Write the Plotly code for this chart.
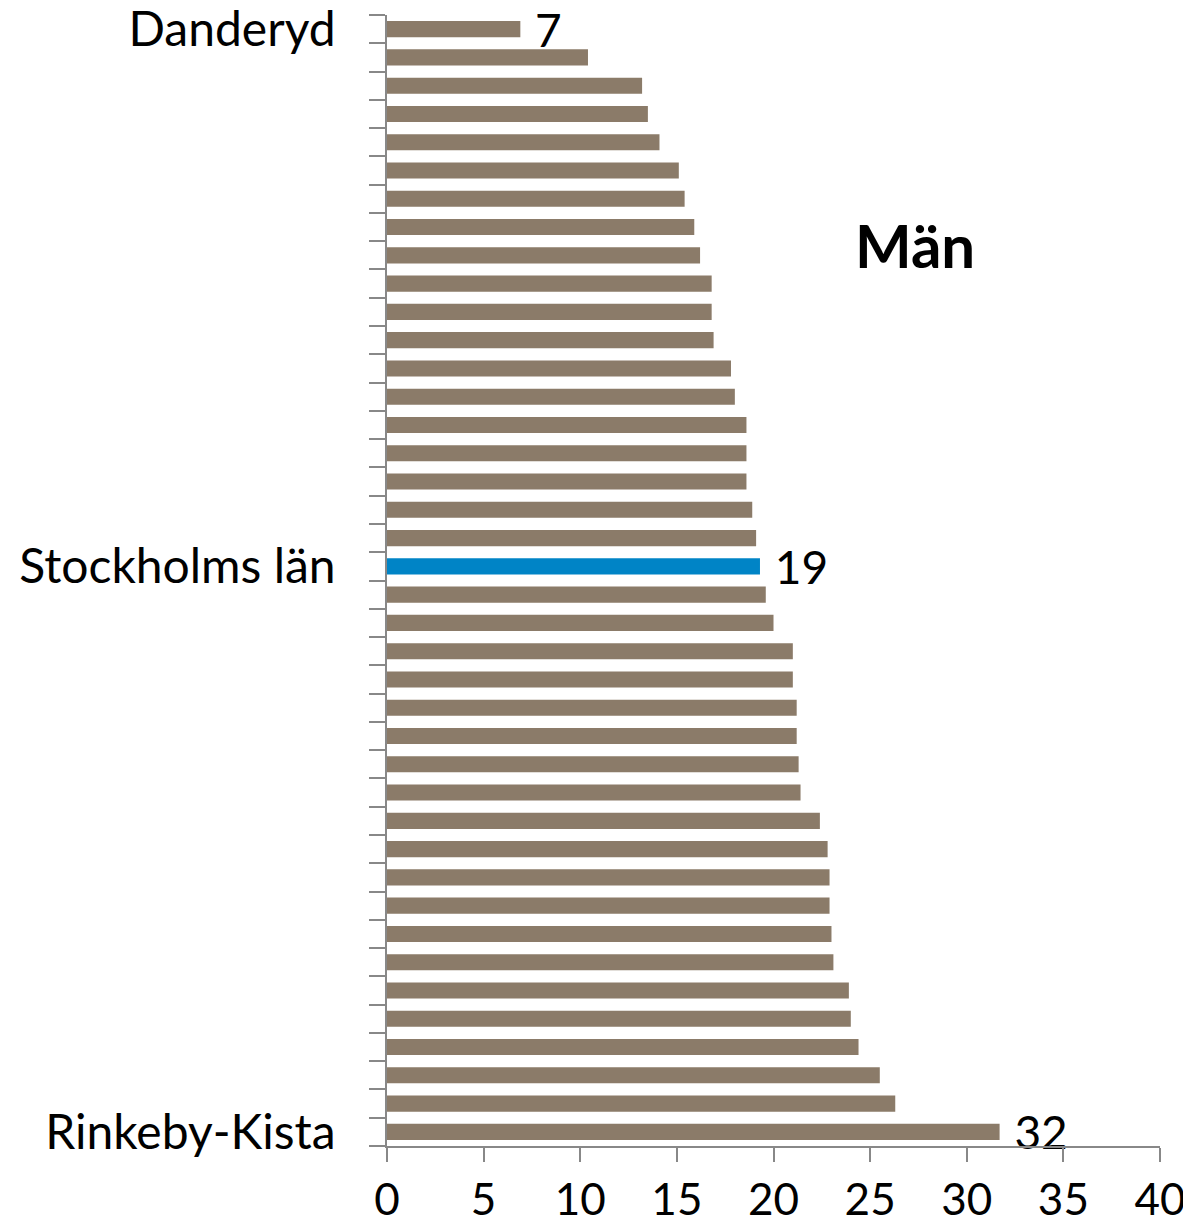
import plotly.graph_objects as go

# Andel (%) per kommun/stadsdel, män, sorterat stigande
labels = ["Danderyd"] + [""] * 18 + ["Stockholms län"] + [""] * 19 + ["Rinkeby-Kista"]
values = [6.9, 10.4, 13.2, 13.5, 14.1, 15.1, 15.4, 15.9, 16.2, 16.8,
          16.8, 16.9, 17.8, 18.0, 18.6, 18.6, 18.6, 18.9, 19.1, 19.3,
          19.6, 20.0, 21.0, 21.0, 21.2, 21.2, 21.3, 21.4, 22.4, 22.8,
          22.9, 22.9, 23.0, 23.1, 23.9, 24.0, 24.4, 25.5, 26.3, 31.7]
value_text = ["7"] + [""] * 18 + ["19"] + [""] * 19 + ["32"]
highlight = "Stockholms län"

labels = labels[:len(values)]
value_text = value_text[:len(values)]
positions = list(range(len(values)))
colors = ["#0084C6" if l == highlight else "#8B7B69" for l in labels]
shown = [i for i, l in enumerate(labels) if l]

font_family = "Lato, sans-serif"

fig = go.Figure(go.Bar(
    x=values,
    y=positions,
    orientation="h",
    marker=dict(color=colors, line=dict(width=0)),
    text=value_text,
    texttemplate=" %{text}",
    textposition="outside",
    constraintext="none",
    cliponaxis=False,
    textfont=dict(size=46, color="black", family=font_family),
))

# the page body adds an 8 px margin, so the figure is 8 px smaller
fig.update_layout(
    width=1183,
    height=1224,
    margin=dict(l=379, r=31, t=7, b=86, autoexpand=False),
    plot_bgcolor="white",
    paper_bgcolor="white",
    bargap=0.43,
    showlegend=False,
    font=dict(family=font_family, color="black"),
    annotations=[dict(
        text="<b>Män</b>", x=0.683, y=0.797, xref="paper", yref="paper",
        xanchor="center", yanchor="middle",
        showarrow=False, font=dict(size=60, family=font_family, color="black"),
    )],
)

fig.update_xaxes(
    range=[0, 40], tick0=0, dtick=5, automargin=False,
    showline=True, linecolor="#888888", linewidth=1.5,
    ticks="outside", ticklen=14, tickcolor="#888888", tickwidth=1.5,
    showgrid=False, zeroline=False, ticklabeloverflow="allow",
    tickfont=dict(size=44), ticklabelstandoff=0,
)

fig.update_yaxes(
    range=[len(values) - 0.5, -0.5], automargin=False,
    tickvals=shown, ticktext=[labels[i] for i in shown],
    ticks="", showline=True, linecolor="#888888", linewidth=1.5,
    showgrid=False, zeroline=False, ticklabeloverflow="allow",
    minor=dict(tick0=0.5, dtick=1, ticks="outside", ticklen=16,
               tickcolor="#888888", tickwidth=1.5, showgrid=False),
    tickfont=dict(size=48), ticklabelstandoff=40,
)

fig.write_html("out.html")
